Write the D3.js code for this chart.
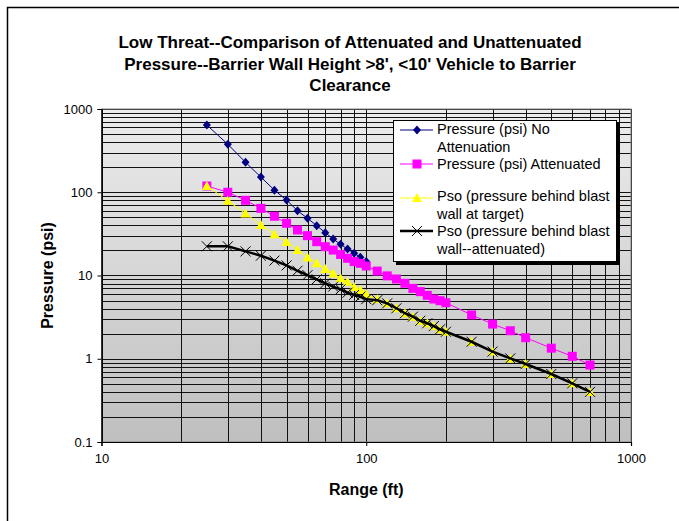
<!DOCTYPE html>
<html>
<head>
<meta charset="utf-8">
<script src="https://cdn.jsdelivr.net/npm/d3@7"></script>
<style>
  body { margin: 0; background: #fff; }
  text { font-family: Arial, "Liberation Sans", sans-serif; }
</style>
</head>
<body>
<div id="chart"></div>
<script>
var width = 679;
var height = 521;

// data
var rangeShort = [25, 30, 35, 40, 45, 50, 55, 60, 65, 70, 75, 80, 85, 90, 95, 100];
var rangeLong = [25, 30, 35, 40, 45, 50, 55, 60, 65, 70, 75, 80, 85, 90, 95, 100,
                 110, 120, 130, 140, 150, 160, 170, 180, 190, 200,
                 250, 300, 350, 400, 500, 600, 700];

var pressureNoAtten = [642, 377, 229, 152, 106, 80.7, 60, 48.6, 39.7, 32.7, 27.4, 23.7, 20.8, 18.5, 16.6, 14.7];

var pressureAtten = [119, 100, 80, 64, 51.5, 42.4, 35.2, 30.1, 25.5, 22.2, 20.2, 17.9, 16.1, 14.7, 14.0, 13.0,
                     11.3, 9.9, 9.08, 8.06, 7.0, 6.4, 5.78, 5.22, 4.98, 4.71,
                     3.36, 2.61, 2.17, 1.79, 1.34, 1.07, 0.84];

var psoTarget = [119, 79, 55.5, 40.5, 31.4, 25.3, 20.2, 16.4, 14.0, 12.0, 10.6, 9.25, 8.43, 7.3, 6.7, 6.0,
                 5.17, 4.63, 4.04, 3.52, 3.2, 2.86, 2.67, 2.47, 2.26, 2.11,
                 1.60, 1.22, 1.01, 0.865, 0.656, 0.507, 0.40];

var psoAtten = [22.4, 22.4, 19.5, 17.3, 15.1, 13.2, 11.4, 10.1, 9.0, 8.06, 7.35, 6.82, 6.22, 5.84, 5.56, 5.2,
                5.05, 4.63, 4.04, 3.52, 3.2, 2.86, 2.67, 2.47, 2.26, 2.11,
                1.60, 1.22, 1.01, 0.865, 0.656, 0.507, 0.40];

var titleLines = ["Low Threat--Comparison of Attenuated and Unattenuated",
                  "Pressure--Barrier Wall Height >8', <10' Vehicle to Barrier",
                  "Clearance"];

var xTicks = [10, 100, 1000];
var yTicks = [0.1, 1, 10, 100, 1000];

var plot = {left: 101.5, right: 631, top: 109, bottom: 442};

var svg = d3.select("#chart")
  .append("svg")
    .attr("width", width)
    .attr("height", height);

// outer chart frame (runs off the picture right and bottom)
svg.append("path")
  .attr("d", "M7.5," + height + " L7.5,7.5 L" + width + ",7.5")
  .attr("fill", "none")
  .attr("stroke", "black")
  .attr("stroke-width", 1.5);

var x = d3.scaleLog()
  .domain([10, 1000])
  .range([plot.left, plot.right]);

var y = d3.scaleLog()
  .domain([0.1, 1000])
  .range([plot.bottom, plot.top]);

var defs = svg.append("defs");
var grad = defs.append("linearGradient")
  .attr("id", "bg")
  .attr("x1", 0).attr("y1", 0)
  .attr("x2", 0).attr("y2", 1);
grad.append("stop").attr("offset", "0%").attr("stop-color", "#ececec");
grad.append("stop").attr("offset", "100%").attr("stop-color", "#bfbfbf");

svg.append("rect")
  .attr("x", plot.left)
  .attr("y", plot.top)
  .attr("width", plot.right - plot.left)
  .attr("height", plot.bottom - plot.top)
  .attr("fill", "url(#bg)");

// grid lines, major and minor
var grid = svg.append("g");
grid.selectAll(".vg")
  .data(x.ticks())
  .enter()
  .append("line")
    .attr("x1", function(d){ return Math.round(x(d)) + 0.5; })
    .attr("x2", function(d){ return Math.round(x(d)) + 0.5; })
    .attr("y1", plot.top)
    .attr("y2", plot.bottom)
    .attr("stroke", "#111")
    .attr("stroke-width", 1);

grid.selectAll(".hg")
  .data(y.ticks())
  .enter()
  .append("line")
    .attr("y1", function(d){ return Math.round(y(d)) + 0.5; })
    .attr("y2", function(d){ return Math.round(y(d)) + 0.5; })
    .attr("x1", plot.left)
    .attr("x2", plot.right)
    .attr("stroke", "#111")
    .attr("stroke-width", 1);

svg.append("rect")
  .attr("x", plot.left)
  .attr("y", plot.top)
  .attr("width", plot.right - plot.left)
  .attr("height", plot.bottom - plot.top)
  .attr("fill", "none")
  .attr("stroke", "#808080")
  .attr("stroke-width", 1);

// axes
var xAxis = svg.append("g")
  .attr("transform", "translate(0," + plot.bottom + ")")
  .call(d3.axisBottom(x).tickValues(xTicks).tickFormat(d3.format("")).tickSize(4).tickPadding(8));

var yAxis = svg.append("g")
  .attr("transform", "translate(" + plot.left + ",0)")
  .call(d3.axisLeft(y).tickValues(yTicks).tickFormat(function(d){ return String(d); }).tickSize(4).tickPadding(5));

[xAxis, yAxis].forEach(function(a) {
  a.select(".domain").attr("stroke", "black").attr("stroke-width", 1.2);
  a.selectAll(".tick line").attr("stroke", "black");
  a.selectAll(".tick text")
    .attr("font-family", "Arial, 'Liberation Sans', sans-serif")
    .attr("font-size", 13)
    .attr("fill", "black");
});

// title and axis titles
svg.append("g")
  .selectAll("text")
  .data(titleLines)
  .enter()
  .append("text")
    .attr("x", 350)
    .attr("y", function(d, i){ return 48 + i * 21.5; })
    .attr("text-anchor", "middle")
    .attr("font-weight", "bold")
    .attr("font-size", 17)
    .text(function(d){ return d; });

svg.append("text")
  .attr("x", (plot.left + plot.right) / 2)
  .attr("y", 495)
  .attr("text-anchor", "middle")
  .attr("font-weight", "bold")
  .attr("font-size", 16)
  .text("Range (ft)");

svg.append("text")
  .attr("transform", "translate(53," + ((plot.top + plot.bottom) / 2) + ") rotate(-90)")
  .attr("text-anchor", "middle")
  .attr("font-weight", "bold")
  .attr("font-size", 16)
  .text("Pressure (psi)");

// markers
var diamond = "M0,-4.5L4,0L0,4.5L-4,0Z";
var square = "M-4.5,-4.5H4.5V4.5H-4.5Z";
var triangle = "M0,-5L5,4H-5Z";
var cross = "M-5,-5L5,5M-5,5L5,-5";

var series = [
  {name: ["Pressure (psi) No", "Attenuation"], xs: rangeShort, ys: pressureNoAtten,
   color: "#000080", width: 1, marker: diamond, mFill: "#000080", mStroke: "none", ly: 130, ty: 129},
  {name: ["Pressure (psi) Attenuated"], xs: rangeLong, ys: pressureAtten,
   color: "#ff00ff", width: 1, marker: square, mFill: "#ff00ff", mStroke: "none", ly: 164, ty: 164},
  {name: ["Pso (pressure behind blast", "wall at target)"], xs: rangeLong, ys: psoTarget,
   color: "#ffff00", width: 1, marker: triangle, mFill: "#ffff00", mStroke: "none", ly: 198, ty: 196},
  {name: ["Pso (pressure behind blast", "wall--attenuated)"], xs: rangeLong, ys: psoAtten,
   color: "#000000", width: 2.5, marker: cross, mFill: "none", mStroke: "#000000", ly: 231, ty: 231}
];

var line = d3.line()
  .x(function(d){ return x(d[0]); })
  .y(function(d){ return y(d[1]); });

series.forEach(function(s) {
  var pts = s.xs.map(function(v, i){ return [v, s.ys[i]]; });
  svg.append("path")
    .datum(pts)
    .attr("d", line)
    .attr("fill", "none")
    .attr("stroke", s.color)
    .attr("stroke-width", s.width);
  svg.append("g")
    .selectAll("path")
    .data(pts)
    .enter()
    .append("path")
      .attr("transform", function(d){ return "translate(" + x(d[0]) + "," + y(d[1]) + ")"; })
      .attr("d", s.marker)
      .attr("fill", s.mFill)
      .attr("stroke", s.mStroke)
      .attr("stroke-width", 1);
});

// legend
var lg = svg.append("g");
lg.append("rect")
  .attr("x", 396).attr("y", 123)
  .attr("width", 224).attr("height", 142)
  .attr("fill", "black");
lg.append("rect")
  .attr("x", 393.5).attr("y", 120.5)
  .attr("width", 223).attr("height", 141)
  .attr("fill", "white")
  .attr("stroke", "black")
  .attr("stroke-width", 1);

series.forEach(function(s) {
  lg.append("line")
    .attr("x1", 400).attr("x2", 433)
    .attr("y1", s.ly).attr("y2", s.ly)
    .attr("stroke", s.color)
    .attr("stroke-width", s.width);
  lg.append("path")
    .attr("transform", "translate(417," + s.ly + ")")
    .attr("d", s.marker)
    .attr("fill", s.mFill)
    .attr("stroke", s.mStroke);
  s.name.forEach(function(t, i) {
    lg.append("text")
      .attr("x", 437)
      .attr("y", s.ty + i * 18 + 5)
      .attr("font-size", 14.5)
      .text(t);
  });
});
</script>
</body>
</html>
